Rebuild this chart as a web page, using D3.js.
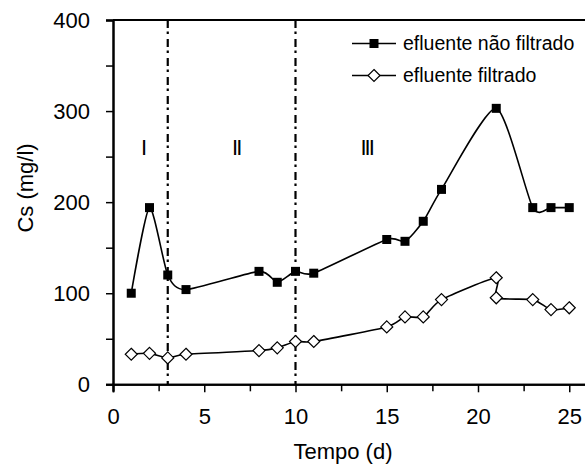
<!DOCTYPE html>
<html>
<head>
<meta charset="utf-8">
<script src="https://cdn.jsdelivr.net/npm/d3@7"></script>
<style>
  html, body { margin: 0; padding: 0; background: #fff; }
  svg { display: block; font-family: "Liberation Sans", Arial, sans-serif; }
</style>
</head>
<body>
<svg id="chart" width="585" height="470"></svg>
<script>
// Days of sampling and suspended solids concentration (mg/l)
const diasNaoFiltrado = [1, 2, 3, 4, 8, 9, 10, 11, 15, 16, 17, 18, 21, 23, 24, 25];
const csNaoFiltrado   = [100, 194, 120, 104, 124, 112, 124, 122, 159, 157, 179, 214, 303, 194, 194, 194];

const diasFiltrado = [1, 2, 3, 4, 8, 9, 10, 11, 15, 16, 17, 18, 21, 21, 23, 24, 25];
const csFiltrado   = [33, 34, 29, 33, 37, 40, 47, 47, 63, 74, 74, 93, 117, 95, 93, 82, 84];

// Phase boundaries (days) and phase labels
const limitesFase = [3, 10];
const fases = [
  { label: "I",   dia: 1.65 },
  { label: "II",  dia: 6.75 },
  { label: "III", dia: 13.9 }
];

const xTicks = [0, 5, 10, 15, 20, 25];
const xMinor = [2.5, 7.5, 12.5, 17.5, 22.5];
const yTicks = [0, 100, 200, 300, 400];
const yMinor = [50, 150, 250, 350];

const svg = d3.select("#chart");
const x = d3.scaleLinear().domain([0, 26]).range([113, 587.5]);
const y = d3.scaleLinear().domain([0, 400]).range([384.3, 20]);

const tickFont = "22px";

// X axis
const xAxis = svg.append("g").attr("transform", `translate(0,${y(0)})`);
xAxis.call(d3.axisBottom(x).tickValues(xTicks).tickSize(8).tickPadding(16).tickFormat(d3.format("d")));
xAxis.append("g").call(d3.axisBottom(x).tickValues(xMinor).tickSize(7).tickFormat(""));
xAxis.selectAll(".domain").attr("stroke", "#000").attr("stroke-width", 2);
xAxis.selectAll("line").attr("stroke", "#000").attr("stroke-width", 1.5);
xAxis.selectAll("text").attr("font-size", tickFont).attr("fill", "#000").attr("font-family", "Liberation Sans, Arial, sans-serif");

// Y axis
const yAxis = svg.append("g").attr("transform", `translate(${x(0)},0)`);
yAxis.call(d3.axisLeft(y).tickValues(yTicks).tickSize(7).tickPadding(16).tickFormat(d3.format("d")));
yAxis.append("g").call(d3.axisLeft(y).tickValues(yMinor).tickSize(7).tickFormat(""));
yAxis.selectAll(".domain").attr("stroke", "#000").attr("stroke-width", 2);
yAxis.selectAll("line").attr("stroke", "#000").attr("stroke-width", 1.5);
yAxis.selectAll("text").attr("font-size", tickFont).attr("fill", "#000").attr("font-family", "Liberation Sans, Arial, sans-serif");

// Top border line
svg.append("line")
  .attr("x1", x(0)).attr("x2", 585)
  .attr("y1", y(400)).attr("y2", y(400))
  .attr("stroke", "#000").attr("stroke-width", 2);

// Phase boundaries (dash-dot)
svg.selectAll("line.fase").data(limitesFase).join("line")
  .attr("class", "fase")
  .attr("x1", d => x(d)).attr("x2", d => x(d))
  .attr("y1", y(400)).attr("y2", y(0))
  .attr("stroke", "#000").attr("stroke-width", 2.2)
  .attr("stroke-dasharray", "8,3.5,2.5,5");

// Phase labels
svg.selectAll("text.fase").data(fases).join("text")
  .attr("class", "fase")
  .attr("x", d => x(d.dia)).attr("y", 155)
  .attr("text-anchor", "middle")
  .attr("font-size", "22px")
  .attr("letter-spacing", "-2px")
  .text(d => d.label);

// Axis titles
svg.append("text")
  .attr("x", x(12.6)).attr("y", 459)
  .attr("text-anchor", "middle").attr("font-size", "22px")
  .text("Tempo (d)");
svg.append("text")
  .attr("transform", "translate(33,188) rotate(-90)")
  .attr("text-anchor", "middle").attr("font-size", "22px")
  .text("Cs (mg/l)");

// Smoothed series lines
const linha = d3.line().curve(d3.curveCardinal.tension(0.35))
  .x(d => x(d[0])).y(d => y(d[1]));

const ptsNF = diasNaoFiltrado.map((d, i) => [d, csNaoFiltrado[i]]);
const ptsF  = diasFiltrado.map((d, i) => [d, csFiltrado[i]]);

svg.append("path").datum(ptsNF).attr("d", linha)
  .attr("fill", "none").attr("stroke", "#000").attr("stroke-width", 1.6);
svg.append("path").datum(ptsF).attr("d", linha)
  .attr("fill", "none").attr("stroke", "#000").attr("stroke-width", 1.6);

// Markers
const sq = 9, dm = 6;
const losango = `M0,${-dm}L${dm},0L0,${dm}L${-dm},0Z`;

svg.selectAll("path.losango").data(ptsF).join("path")
  .attr("class", "losango")
  .attr("transform", d => `translate(${x(d[0])},${y(d[1])})`)
  .attr("d", losango)
  .attr("fill", "#fff").attr("stroke", "#000").attr("stroke-width", 1.2);

svg.selectAll("rect.quad").data(ptsNF).join("rect")
  .attr("class", "quad")
  .attr("x", d => x(d[0]) - sq / 2).attr("y", d => y(d[1]) - sq / 2)
  .attr("width", sq).attr("height", sq)
  .attr("fill", "#000");

// Legend
const legenda = svg.append("g");
const itens = [
  { label: "efluente não filtrado", tipo: "quad", yy: 43.5 },
  { label: "efluente filtrado", tipo: "losango", yy: 75.5 }
];
itens.forEach(it => {
  legenda.append("line")
    .attr("x1", 352).attr("x2", 396).attr("y1", it.yy).attr("y2", it.yy)
    .attr("stroke", "#000").attr("stroke-width", 1.5);
  if (it.tipo === "quad") {
    legenda.append("rect")
      .attr("x", 374 - 4.5).attr("y", it.yy - 4.5).attr("width", 9).attr("height", 9)
      .attr("fill", "#000");
  } else {
    legenda.append("path")
      .attr("transform", `translate(374,${it.yy})`).attr("d", losango)
      .attr("fill", "#fff").attr("stroke", "#000").attr("stroke-width", 1.2);
  }
  legenda.append("text")
    .attr("x", 403).attr("y", it.yy + 6.5)
    .attr("font-size", "19.5px")
    .text(it.label);
});
</script>
</body>
</html>
